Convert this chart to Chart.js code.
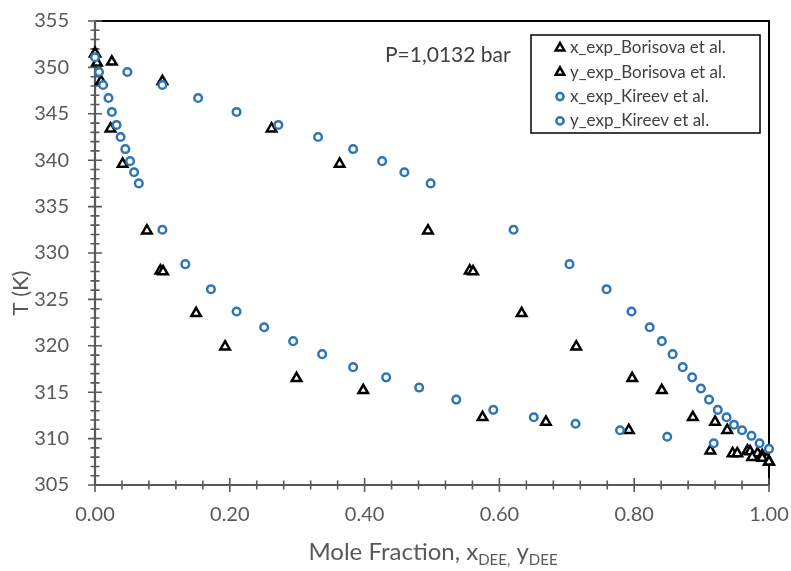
<!DOCTYPE html>
<html>
<head>
<meta charset="utf-8">
<script src="https://cdn.jsdelivr.net/npm/chart.js@4.4.1/dist/chart.umd.min.js"></script>
<style>
  body { margin: 0; background: #fff; }
  canvas { display: block; }
</style>
</head>
<body>
<canvas id="vleChart" width="791" height="571"></canvas>
<script>
// Borisova et al. (triangles)
const borisovaLiqX = [0, 0.003, 0.009, 0.023, 0.041, 0.077, 0.097, 0.101, 0.150, 0.193, 0.299, 0.398, 0.575, 0.669, 0.792, 0.913, 0.946, 0.953, 0.975, 0.990, 1.0];
const borisovaLiqT = [351.5, 350.5, 348.5, 343.4, 339.6, 332.4, 328.1, 328.0, 323.5, 319.9, 316.5, 315.2, 312.3, 311.8, 310.9, 308.7, 308.4, 308.4, 308.0, 307.9, 307.5];
const borisovaVapY = [0, 0.025, 0.100, 0.262, 0.363, 0.494, 0.556, 0.561, 0.633, 0.714, 0.797, 0.841, 0.887, 0.920, 0.938, 0.968, 0.972, 0.983, 0.990, 0.997, 1.0];
const borisovaVapT = [351.5, 350.6, 348.5, 343.4, 339.6, 332.4, 328.1, 328.0, 323.5, 319.9, 316.5, 315.2, 312.3, 311.8, 310.9, 308.7, 308.6, 308.4, 308.2, 307.9, 307.5];

// Kireev et al. (circles)
const kireevLiqX = [0, 0.006, 0.012, 0.020, 0.025, 0.032, 0.038, 0.045, 0.052, 0.058, 0.065, 0.100, 0.134, 0.172, 0.210, 0.251, 0.294, 0.337, 0.383, 0.432, 0.481, 0.536, 0.591, 0.651, 0.713, 0.779, 0.849, 0.918];
const kireevLiqT = [351.1, 349.5, 348.1, 346.7, 345.2, 343.8, 342.5, 341.2, 339.9, 338.7, 337.5, 332.5, 328.8, 326.1, 323.7, 322.0, 320.5, 319.1, 317.7, 316.6, 315.5, 314.2, 313.1, 312.3, 311.6, 310.9, 310.2, 309.5];
const kireevVapY = [0.048, 0.100, 0.153, 0.210, 0.272, 0.331, 0.383, 0.426, 0.459, 0.498, 0.621, 0.704, 0.759, 0.796, 0.823, 0.841, 0.857, 0.872, 0.886, 0.899, 0.911, 0.924, 0.937, 0.948, 0.960, 0.974, 0.986, 1.0];
const kireevVapT = [349.5, 348.1, 346.7, 345.2, 343.8, 342.5, 341.2, 339.9, 338.7, 337.5, 332.5, 328.8, 326.1, 323.7, 322.0, 320.5, 319.1, 317.7, 316.6, 315.4, 314.2, 313.1, 312.3, 311.5, 310.9, 310.3, 309.5, 308.9];

const seriesLabels = ['x_exp_Borisova et al.', 'y_exp_Borisova et al.', 'x_exp_Kireev et al.', 'y_exp_Kireev et al.'];
const xTickLabels = ['0.00', '0.20', '0.40', '0.60', '0.80', '1.00'];

const FONT = 'Lato';
const GREY = '#595959';
const BLUE = '#2E75B6';

function pts(xs, ts) {
    return xs.map((x, i) => ({x: x, y: ts[i]}));
}

function triDataset(label, data) {
    return {
        label: label, data: data, order: 1, clip: false,
        pointStyle: 'triangle', pointRadius: 5.5, borderWidth: 2.5,
        borderColor: '#000', backgroundColor: '#fff'
    };
}
function circDataset(label, data) {
    return {
        label: label, data: data, order: 0, clip: false,
        pointStyle: 'circle', pointRadius: 3.8, borderWidth: 2.5,
        borderColor: BLUE, backgroundColor: '#fff'
    };
}

// axes and minor ticks under the points, titles/legend/note on top
const decorPlugin = {
    id: 'decor',
    beforeDatasetsDraw(chart) {
        const ctx = chart.ctx;
        const a = chart.chartArea;
        const xs = chart.scales.x, ys = chart.scales.y;
        ctx.save();

        // black frame top/right
        ctx.strokeStyle = '#000';
        ctx.lineWidth = 2;
        ctx.beginPath();
        ctx.moveTo(a.left, a.top);
        ctx.lineTo(a.right, a.top);
        ctx.lineTo(a.right, a.bottom);
        ctx.stroke();

        // grey axes
        ctx.strokeStyle = GREY;
        ctx.lineWidth = 2.2;
        ctx.beginPath();
        ctx.moveTo(a.left, a.top);
        ctx.lineTo(a.left, a.bottom);
        ctx.lineTo(a.right, a.bottom);
        ctx.stroke();

        ctx.lineWidth = 1.6;
        ctx.beginPath();
        for (let t = 305; t <= 355; t++) {
            const y = ys.getPixelForValue(t);
            const len = t % 5 === 0 ? 7 : 4.5;
            ctx.moveTo(a.left - len, y);
            ctx.lineTo(a.left + len, y);
        }
        for (let i = 0; i <= 25; i++) {
            const x = xs.getPixelForValue(i * 0.04);
            const len = i % 5 === 0 ? 7 : 4.5;
            ctx.moveTo(x, a.bottom - len);
            ctx.lineTo(x, a.bottom + len);
        }
        ctx.stroke();
        ctx.restore();
    },
    afterDatasetsDraw(chart) {
        const ctx = chart.ctx;
        ctx.save();

        // y title
        ctx.fillStyle = GREY;
        ctx.font = '22px ' + FONT;
        ctx.textAlign = 'center';
        ctx.textBaseline = 'middle';
        ctx.save();
        ctx.translate(21, 293);
        ctx.rotate(-Math.PI / 2);
        ctx.fillText('T (K)', 0, 0);
        ctx.restore();

        // x title with subscripts
        const parts = [
            ['Mole Fraction, x', false], ['DEE,', true], [' y', false], ['DEE', true]
        ];
        const big = '24px ' + FONT, small = '15px ' + FONT;
        let total = 0;
        parts.forEach(p => { ctx.font = p[1] ? small : big; total += ctx.measureText(p[0]).width; });
        let px = 433 - total / 2;
        const base = 560;
        ctx.textAlign = 'left';
        ctx.textBaseline = 'alphabetic';
        parts.forEach(p => {
            ctx.font = p[1] ? small : big;
            ctx.fillText(p[0], px, p[1] ? base + 5 : base);
            px += ctx.measureText(p[0]).width;
        });

        // note
        ctx.fillStyle = '#404040';
        ctx.font = '21px ' + FONT;
        ctx.textBaseline = 'middle';
        ctx.fillText('P=1,0132 bar', 385, 55);

        // legend box
        ctx.fillStyle = '#fff';
        ctx.fillRect(531, 35, 229, 98);
        ctx.strokeStyle = '#000';
        ctx.lineWidth = 1.5;
        ctx.strokeRect(531, 35, 229, 98);
        chart.data.datasets.forEach((ds, i) => {
            const y = 48 + i * 24.3;
            const mx = 560;
            ctx.lineWidth = ds.borderWidth;
            ctx.strokeStyle = ds.borderColor;
            ctx.beginPath();
            if (ds.pointStyle === 'triangle') {
                const r = 5;
                ctx.moveTo(mx, y - r);
                ctx.lineTo(mx + r * 0.866, y + r / 2);
                ctx.lineTo(mx - r * 0.866, y + r / 2);
                ctx.closePath();
            } else {
                ctx.arc(mx, y, 3.6, 0, Math.PI * 2);
            }
            ctx.stroke();
            ctx.fillStyle = '#404040';
            ctx.font = '17px ' + FONT;
            ctx.textBaseline = 'middle';
            ctx.fillText(ds.label, 570, y);
        });

        ctx.restore();
    }
};

new Chart(document.getElementById('vleChart').getContext('2d'), {
    type: 'scatter',
    data: {
        datasets: [
            triDataset(seriesLabels[0], pts(borisovaLiqX, borisovaLiqT)),
            triDataset(seriesLabels[1], pts(borisovaVapY, borisovaVapT)),
            circDataset(seriesLabels[2], pts(kireevLiqX, kireevLiqT)),
            circDataset(seriesLabels[3], pts(kireevVapY, kireevVapT))
        ]
    },
    options: {
        responsive: false,
        animation: false,
        layout: { padding: { top: 21, right: 22, left: 0, bottom: 0 } },
        plugins: { legend: { display: false }, tooltip: { enabled: false } },
        scales: {
            x: {
                type: 'linear', min: 0, max: 1,
                grid: { display: false }, border: { display: false },
                ticks: {
                    stepSize: 0.2, padding: 10, color: GREY,
                    font: { family: FONT, size: 20 },
                    callback: (v) => xTickLabels[Math.round(v / 0.2)]
                },
                afterFit(s) { s.height = 86; s.paddingLeft = 0; s.paddingRight = 0; }
            },
            y: {
                type: 'linear', min: 305, max: 355,
                grid: { display: false }, border: { display: false },
                ticks: {
                    stepSize: 5, padding: 18, color: GREY,
                    font: { family: FONT, size: 20 }
                },
                afterFit(s) { s.width = 95; s.paddingTop = 0; s.paddingBottom = 0; }
            }
        }
    },
    plugins: [decorPlugin]
});
</script>
</body>
</html>
